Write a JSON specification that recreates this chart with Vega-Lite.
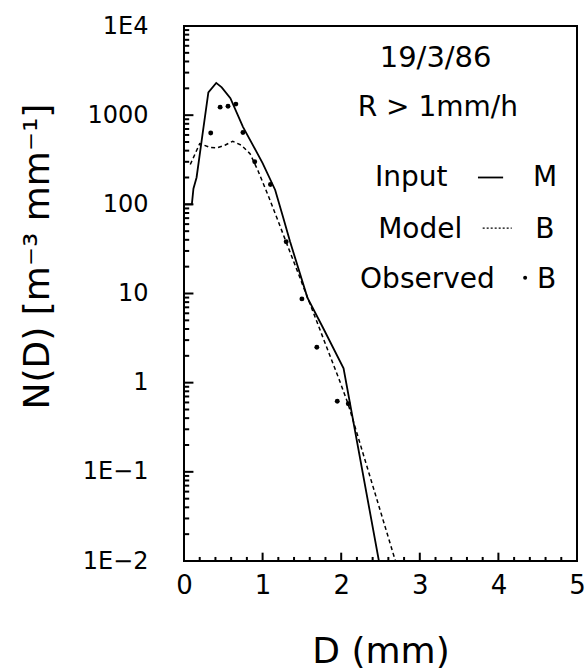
{
  "$schema": "https://vega.github.io/schema/vega-lite/v6.json",
  "width": 393,
  "height": 535,
  "autosize": {"type": "none"},
  "padding": {"left": 184, "top": 26, "right": 8, "bottom": 108},
  "background": "white",
  "config": {
    "view": {"stroke": "black", "strokeWidth": 2},
    "font": "DejaVu Sans",
    "text": {"font": "DejaVu Sans", "color": "black"}
  },
  "datasets": {
    "input": [
      {"D": 0, "N": 100}, {"D": 0.1, "N": 100}, {"D": 0.12, "N": 150}, {"D": 0.16, "N": 200},
      {"D": 0.24, "N": 650}, {"D": 0.31, "N": 1800}, {"D": 0.41, "N": 2300}, {"D": 0.48, "N": 2050},
      {"D": 0.59, "N": 1550}, {"D": 0.75, "N": 740}, {"D": 1.0, "N": 290}, {"D": 1.16, "N": 145},
      {"D": 1.26, "N": 72}, {"D": 1.35, "N": 38}, {"D": 1.57, "N": 9}, {"D": 1.77, "N": 4.1},
      {"D": 2.03, "N": 1.45}, {"D": 2.48, "N": 0.01}
    ],
    "model": [
      {"D": 0.08, "N": 280}, {"D": 0.2, "N": 480}, {"D": 0.33, "N": 435}, {"D": 0.42, "N": 430},
      {"D": 0.52, "N": 460}, {"D": 0.62, "N": 510}, {"D": 0.73, "N": 460}, {"D": 0.84, "N": 370},
      {"D": 0.94, "N": 240}, {"D": 1.08, "N": 120}, {"D": 1.18, "N": 71}, {"D": 1.98, "N": 1.05},
      {"D": 2.09, "N": 0.57}, {"D": 2.69, "N": 0.01}
    ],
    "observed": [
      {"D": 0.34, "N": 630}, {"D": 0.46, "N": 1230}, {"D": 0.56, "N": 1260}, {"D": 0.66, "N": 1330},
      {"D": 0.75, "N": 640}, {"D": 0.9, "N": 300}, {"D": 1.1, "N": 167}, {"D": 1.3, "N": 38},
      {"D": 1.5, "N": 8.7}, {"D": 1.69, "N": 2.5}, {"D": 1.95, "N": 0.62}, {"D": 2.09, "N": 0.58}
    ],
    "xMajorTicks": [{"D": 1}, {"D": 2}, {"D": 3}, {"D": 4}],
    "xMinorTicks": [
      {"D": 0.2}, {"D": 0.4}, {"D": 0.6}, {"D": 0.8}, {"D": 1.2}, {"D": 1.4}, {"D": 1.6}, {"D": 1.8},
      {"D": 2.2}, {"D": 2.4}, {"D": 2.6}, {"D": 2.8}, {"D": 3.2}, {"D": 3.4}, {"D": 3.6}, {"D": 3.8},
      {"D": 4.2}, {"D": 4.4}, {"D": 4.6}, {"D": 4.8}
    ],
    "yMajorTicks": [{"N": 0.1}, {"N": 1}, {"N": 10}, {"N": 100}, {"N": 1000}],
    "yMinorTicks": [
      {"N": 0.02}, {"N": 0.03}, {"N": 0.04}, {"N": 0.05}, {"N": 0.06}, {"N": 0.07}, {"N": 0.08}, {"N": 0.09},
      {"N": 0.2}, {"N": 0.3}, {"N": 0.4}, {"N": 0.5}, {"N": 0.6}, {"N": 0.7}, {"N": 0.8}, {"N": 0.9},
      {"N": 2}, {"N": 3}, {"N": 4}, {"N": 5}, {"N": 6}, {"N": 7}, {"N": 8}, {"N": 9},
      {"N": 20}, {"N": 30}, {"N": 40}, {"N": 50}, {"N": 60}, {"N": 70}, {"N": 80}, {"N": 90},
      {"N": 200}, {"N": 300}, {"N": 400}, {"N": 500}, {"N": 600}, {"N": 700}, {"N": 800}, {"N": 900},
      {"N": 2000}, {"N": 3000}, {"N": 4000}, {"N": 5000}, {"N": 6000}, {"N": 7000}, {"N": 8000}, {"N": 9000}
    ]
  },
  "layer": [
    {
      "data": {"name": "input"},
      "mark": {"type": "line", "color": "black", "strokeWidth": 1.8},
      "encoding": {
        "x": {
          "field": "D", "type": "quantitative",
          "scale": {"domain": [0, 5], "nice": false, "zero": false},
          "axis": {
            "orient": "bottom",
            "title": "D (mm)",
            "titleFontSize": 36, "titleFontWeight": "normal", "titleColor": "black", "titlePadding": 36,
            "values": [0, 1, 2, 3, 4, 5],
            "format": "d",
            "labelFontSize": 26, "labelColor": "black", "labelPadding": 11,
            "labelFlush": false, "labelOverlap": false,
            "ticks": false, "tickSize": 0,
            "domain": false, "grid": false
          }
        },
        "y": {
          "field": "N", "type": "quantitative",
          "scale": {"type": "log", "domain": [0.01, 10000], "nice": false},
          "axis": {
            "orient": "left",
            "title": "N(D) [m⁻³ mm⁻¹]",
            "titleFontSize": 36, "titleFontWeight": "normal", "titleColor": "black", "titlePadding": 26,
            "titleY": 230,
            "values": [0.01, 0.1, 1, 10, 100, 1000, 10000],
            "labelExpr": "datum.value >= 9999 ? '1E4' : abs(datum.value - 0.1) < 1e-9 ? '1E−1' : abs(datum.value - 0.01) < 1e-9 ? '1E−2' : format(datum.value, 'd')",
            "labelFontSize": 24, "labelColor": "black", "labelPadding": 36,
            "labelOverlap": false, "labelFlush": false,
            "ticks": false, "tickSize": 0,
            "domain": false, "grid": false
          }
        }
      }
    },
    {
      "data": {"name": "model"},
      "mark": {"type": "line", "color": "black", "strokeWidth": 1.5, "strokeDash": [4, 3]},
      "encoding": {
        "x": {"field": "D", "type": "quantitative"},
        "y": {"field": "N", "type": "quantitative"}
      }
    },
    {
      "data": {"name": "observed"},
      "mark": {"type": "point", "filled": true, "color": "black", "size": 24, "opacity": 1},
      "encoding": {
        "x": {"field": "D", "type": "quantitative"},
        "y": {"field": "N", "type": "quantitative"}
      }
    },
    {
      "data": {"name": "xMajorTicks"},
      "mark": {"type": "rule", "color": "black", "strokeWidth": 2},
      "encoding": {"x": {"field": "D", "type": "quantitative"}, "y": {"datum": 0.01}, "y2": {"datum": 0.0124}}
    },
    {
      "data": {"name": "xMinorTicks"},
      "mark": {"type": "rule", "color": "black", "strokeWidth": 2},
      "encoding": {"x": {"field": "D", "type": "quantitative"}, "y": {"datum": 0.01}, "y2": {"datum": 0.0111}}
    },
    {
      "data": {"name": "yMajorTicks"},
      "mark": {"type": "rule", "color": "black", "strokeWidth": 2},
      "encoding": {"y": {"field": "N", "type": "quantitative"}, "x": {"datum": 0}, "x2": {"datum": 0.12}}
    },
    {
      "data": {"name": "yMinorTicks"},
      "mark": {"type": "rule", "color": "black", "strokeWidth": 2},
      "encoding": {"y": {"field": "N", "type": "quantitative"}, "x": {"datum": 0}, "x2": {"datum": 0.066}}
    },
    {
      "data": {"values": [{}]},
      "mark": {"type": "text", "text": "19/3/86", "align": "left", "baseline": "middle", "fontSize": 29},
      "encoding": {"x": {"datum": 2.49}, "y": {"datum": 4400}}
    },
    {
      "data": {"values": [{}]},
      "mark": {"type": "text", "text": "R > 1mm/h", "align": "left", "baseline": "middle", "fontSize": 28},
      "encoding": {"x": {"datum": 2.21}, "y": {"datum": 1200}}
    },
    {
      "data": {"values": [{}]},
      "mark": {"type": "text", "text": "Input", "align": "left", "baseline": "middle", "fontSize": 28},
      "encoding": {"x": {"datum": 2.43}, "y": {"datum": 195}}
    },
    {
      "data": {"values": [{}]},
      "mark": {"type": "rule", "color": "black", "strokeWidth": 1.8},
      "encoding": {"x": {"datum": 3.74}, "x2": {"datum": 4.06}, "y": {"datum": 200}}
    },
    {
      "data": {"values": [{}]},
      "mark": {"type": "text", "text": "M", "align": "left", "baseline": "middle", "fontSize": 28},
      "encoding": {"x": {"datum": 4.44}, "y": {"datum": 195}}
    },
    {
      "data": {"values": [{}]},
      "mark": {"type": "text", "text": "Model", "align": "left", "baseline": "middle", "fontSize": 28},
      "encoding": {"x": {"datum": 2.47}, "y": {"datum": 51}}
    },
    {
      "data": {"values": [{}]},
      "mark": {"type": "rule", "color": "black", "strokeWidth": 1.2, "strokeDash": [2, 2]},
      "encoding": {"x": {"datum": 3.8}, "x2": {"datum": 4.17}, "y": {"datum": 54}}
    },
    {
      "data": {"values": [{}]},
      "mark": {"type": "text", "text": "B", "align": "left", "baseline": "middle", "fontSize": 28},
      "encoding": {"x": {"datum": 4.47}, "y": {"datum": 51}}
    },
    {
      "data": {"values": [{}]},
      "mark": {"type": "text", "text": "Observed", "align": "left", "baseline": "middle", "fontSize": 28},
      "encoding": {"x": {"datum": 2.24}, "y": {"datum": 14}}
    },
    {
      "data": {"values": [{}]},
      "mark": {"type": "point", "filled": true, "color": "black", "size": 16, "opacity": 1},
      "encoding": {"x": {"datum": 4.34}, "y": {"datum": 15}}
    },
    {
      "data": {"values": [{}]},
      "mark": {"type": "text", "text": "B", "align": "left", "baseline": "middle", "fontSize": 28},
      "encoding": {"x": {"datum": 4.49}, "y": {"datum": 14}}
    }
  ]
}
